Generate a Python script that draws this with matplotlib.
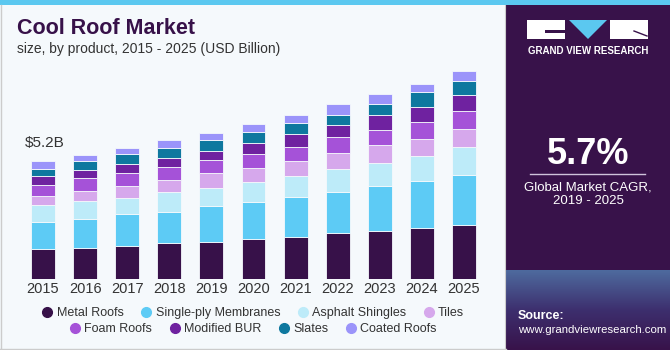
import numpy as np
import matplotlib
matplotlib.use("Agg")
import matplotlib.pyplot as plt
from matplotlib.lines import Line2D
from matplotlib.patches import Rectangle, Polygon

plt.rcParams['font.family'] = ['Liberation Sans', 'DejaVu Sans']

# data (USD Billion)
years = ['2015', '2016', '2017', '2018', '2019', '2020',
         '2021', '2022', '2023', '2024', '2025']
metal_roofs = [1.31, 1.35, 1.46, 1.58, 1.63, 1.75, 1.85, 2.01, 2.10, 2.25, 2.37]
single_ply = [1.20, 1.27, 1.41, 1.38, 1.58, 1.63, 1.76, 1.82, 1.98, 2.07, 2.20]
asphalt_shingles = [0.73, 0.80, 0.69, 0.87, 0.79, 0.89, 0.92, 1.00, 1.01, 1.09, 1.22]
tiles = [0.41, 0.47, 0.54, 0.54, 0.65, 0.63, 0.66, 0.70, 0.79, 0.76, 0.80]
foam_roofs = [0.47, 0.54, 0.56, 0.56, 0.58, 0.60, 0.62, 0.69, 0.67, 0.75, 0.78]
modified_bur = [0.41, 0.36, 0.41, 0.41, 0.40, 0.50, 0.57, 0.53, 0.66, 0.65, 0.73]
slates = [0.31, 0.38, 0.43, 0.43, 0.48, 0.48, 0.48, 0.48, 0.50, 0.65, 0.62]
coated_roofs = [0.36, 0.26, 0.25, 0.34, 0.29, 0.34, 0.35, 0.46, 0.40, 0.36, 0.44]

series = [
    ('Metal Roofs', metal_roofs, '#371149'),
    ('Single-ply Membranes', single_ply, '#5DCBF5'),
    ('Asphalt Shingles', asphalt_shingles, '#BDEBF9'),
    ('Tiles', tiles, '#D6A8EC'),
    ('Foam Roofs', foam_roofs, '#A552D8'),
    ('Modified BUR', modified_bur, '#6F22A0'),
    ('Slates', slates, '#0E789F'),
    ('Coated Roofs', coated_roofs, '#9B94FA'),
]

W, H = 670, 350
bg = '#F5F9FC'
panel = '#38124A'

fig = plt.figure(figsize=(W / 100, H / 100), dpi=100)
fig.patch.set_facecolor(bg)

# decoration layer in pixel coordinates
deco = fig.add_axes([0, 0, 1, 1])
deco.set_xlim(0, W)
deco.set_ylim(H, 0)
deco.axis('off')
deco.add_patch(Rectangle((0, 0), W, 5, color='#5BC8F0', lw=0))
deco.add_patch(Rectangle((506, 5), W - 506, H - 5, color=panel, lw=0))
# bottom gradient of the side panel
grad = np.linspace(0, 1, 100)[:, None]
cmap = matplotlib.colors.LinearSegmentedColormap.from_list('g', [panel, '#3D2F6E', '#4E6A9E'])
deco.imshow(grad, extent=(506, W, 270, H), cmap=cmap, aspect='auto', zorder=1)
deco.plot([0.5, 0.5], [5, H - 1], color='#CCCCCC', lw=1)
deco.plot([0, 506], [H - 1.5, H - 1.5], color='#CCCCCC', lw=1)
deco.plot([505, 505], [5, H], color='#CCCCCC', lw=0.8)

# logo
deco.add_patch(Rectangle((527, 20), 38, 19, color='white', lw=0, zorder=2))
deco.add_patch(Rectangle((545, 30), 20, 3, color=panel, lw=0, zorder=3))
deco.add_patch(Polygon([(569, 20), (607, 20), (588, 39)], color='#5BC8F0', lw=0, zorder=2))
deco.add_patch(Rectangle((610, 20), 38, 19, color='white', lw=0, zorder=2))
deco.plot([634, 647], [31, 36], color=panel, lw=1, zorder=3)
deco.text(588, 51, 'GRAND VIEW RESEARCH', color='white', fontsize=7, fontweight='bold',
          ha='center', va='center', zorder=3)

deco.text(588, 155, '5.7%', color='white', fontsize=26, fontweight='bold',
          ha='center', va='center', zorder=3)
deco.plot([530, 645], [173.5, 173.5], color='#CFC3DB', lw=1, zorder=3)
deco.text(588, 187, 'Global Market CAGR,', color='white', fontsize=9.5,
          ha='center', va='center', zorder=3)
deco.text(588, 201, '2019 - 2025', color='white', fontsize=9.5,
          ha='center', va='center', zorder=3)
deco.text(518, 316, 'Source:', color='white', fontsize=9, fontweight='bold',
          ha='left', va='center', zorder=3)
deco.text(518, 330, 'www.grandviewresearch.com', color='white', fontsize=8.2,
          ha='left', va='center', zorder=3)

# titles
deco.text(17, 29, 'Cool Roof Market', color='#371149', fontsize=15.5, fontweight='heavy',
          ha='left', va='center')
deco.text(17, 49, 'size, by product, 2015 - 2025 (USD Billion)', color='#333333',
          fontsize=10, ha='left', va='center')

# chart axes: bar centers at x=43..464 px, baseline at y=279 px
px_per_unit = 22.75
ax_left, ax_right, ax_bottom, ax_top = 22, 485, 279, 60
ax = fig.add_axes([ax_left / W, (H - ax_bottom) / H,
                   (ax_right - ax_left) / W, (ax_bottom - ax_top) / H])
ax.set_facecolor('none')
x = np.arange(len(years))
bottom = np.zeros(len(years))
for name, vals, color in series:
    ax.bar(x, vals, width=0.57, bottom=bottom, color=color, edgecolor=bg,
           linewidth=0.6, label=name)
    bottom += np.array(vals)

ax.set_xlim(-0.5, len(years) - 0.5)
ax.set_ylim(0, (ax_bottom - ax_top) / px_per_unit)
ax.set_xticks(x)
ax.set_xticklabels(years, fontsize=10.5, color='#333333')
ax.tick_params(axis='x', length=0, pad=2)
ax.set_yticks([])
for s in ax.spines.values():
    s.set_visible(False)

ax.text(-0.44, bottom[0] + 0.45, '$5.2B', fontsize=11, color='#333333',
        ha='left', va='bottom')

# legend in two centered rows
def make_handles(items):
    return [Line2D([], [], marker='o', linestyle='none', markersize=7,
                   markerfacecolor=c, markeredgecolor=c) for _, _, c in items]

for row, yy in ((series[:4], 313), (series[4:], 329)):
    fig.legend(make_handles(row), [n for n, _, _ in row], loc='center',
               bbox_to_anchor=(253 / W, (H - yy) / H), ncol=4, frameon=False,
               fontsize=9, handletextpad=0.3, columnspacing=1.35,
               handlelength=0.9, borderpad=0, labelcolor='#333333')

fig.savefig('out.png', dpi=100, facecolor=fig.get_facecolor())
